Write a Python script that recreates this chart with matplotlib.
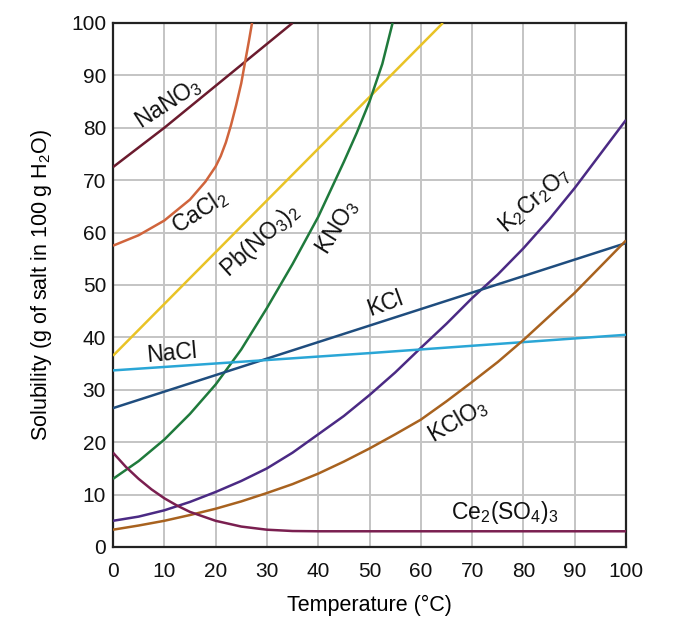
import matplotlib
matplotlib.use("Agg")
import matplotlib.pyplot as plt

plt.rcParams['font.family'] = ['Liberation Sans', 'DejaVu Sans']
plt.rcParams['mathtext.fontset'] = 'custom'
plt.rcParams['mathtext.rm'] = 'Liberation Sans'
plt.rcParams['mathtext.default'] = 'regular'

# Data (temperature in °C, solubility in g / 100 g water)
nano3_t = [0, 10, 20, 30, 35]
nano3_s = [72.5, 80, 88, 96, 100]

cacl2_t = [0, 5, 10, 15, 18, 20, 21, 22, 23, 24, 25, 25.7, 26.5, 27.1]
cacl2_s = [57.5, 59.5, 62.3, 66.3, 69.7, 72.6, 74.6, 77.2, 80.5, 84.3, 88.5, 92.3, 96.6, 100]

pb_t = [0, 64.3]
pb_s = [36.5, 100]

kno3_t = [0, 5, 10, 15, 20, 25, 30, 35, 40, 45, 47.5, 50, 52.5, 54.5]
kno3_s = [13, 16.4, 20.5, 25.4, 31, 37.7, 45.6, 54, 63, 73.5, 79, 85, 92.2, 100]

k2cr2o7_t = [0, 5, 10, 15, 20, 25, 30, 35, 40, 45, 50, 55, 60, 65, 70, 75, 80, 85, 90, 95, 100]
k2cr2o7_s = [5, 5.8, 7, 8.6, 10.5, 12.6, 15, 18, 21.5, 25, 29, 33.3, 38, 42.6,
             47.5, 52, 57, 62.5, 68.5, 75, 81.5]

kcl_t = [0, 100]
kcl_s = [26.5, 58]

nacl_t = [0, 50, 100]
nacl_s = [33.7, 37, 40.5]

kclo3_t = [0, 5, 10, 15, 20, 25, 30, 35, 40, 45, 50, 55, 60, 65, 70, 75, 80, 85, 90, 95, 100]
kclo3_s = [3.3, 4.1, 5, 6.1, 7.3, 8.7, 10.3, 12, 14, 16.3, 18.8, 21.5, 24.3, 27.8,
           31.5, 35.3, 39.5, 44, 48.5, 53.5, 58.5]

ce_t = [0, 2.5, 5, 7.5, 10, 12.5, 15, 20, 25, 30, 35, 40, 100]
ce_s = [18, 15.3, 13, 11, 9.3, 7.9, 6.7, 5, 3.9, 3.3, 3.05, 3, 3]

x_ticks = list(range(0, 101, 10))
y_ticks = list(range(0, 101, 10))

series = [
    (nano3_t, nano3_s, '#6b1b2e'),
    (cacl2_t, cacl2_s, '#d0643c'),
    (pb_t, pb_s, '#e9c326'),
    (kno3_t, kno3_s, '#1f7a3c'),
    (k2cr2o7_t, k2cr2o7_s, '#4b2a84'),
    (kcl_t, kcl_s, '#1f4d7e'),
    (nacl_t, nacl_s, '#2aa6d6'),
    (kclo3_t, kclo3_s, '#a8621f'),
    (ce_t, ce_s, '#7a1f50'),
]

labels = [
    (r'NaNO$_3$', 10.7, 84.7, 33),
    (r'CaCl$_2$', 16.8, 64.0, 33),
    (r'Pb(NO$_3$)$_2$', 28.7, 58.6, 42),
    (r'KNO$_3$', 43.7, 61.0, 58),
    (r'K$_2$Cr$_2$O$_7$', 82.3, 66.2, 41),
    ('KCl', 53.0, 46.5, 20),
    ('NaCl', 11.5, 37.0, 5),
    (r'KClO$_3$', 67.2, 24.2, 30),
    (r'Ce$_2$(SO$_4$)$_3$', 76.4, 6.5, 0),
]

fig = plt.figure(figsize=(6.98, 6.30), dpi=100)
ax = fig.add_axes([113/698, 1-547/630, (626-113)/698, (547-23)/630])

for t, s, c in series:
    ax.plot(t, s, color=c, lw=1.8, solid_capstyle='butt', solid_joinstyle='round', zorder=3)

for txt, x, y, rot in labels:
    ax.text(x, y, txt, fontsize=16.5, rotation=rot, ha='center', va='center',
            rotation_mode='anchor', color='#111111', zorder=4)

ax.set_xlim(0, 100)
ax.set_ylim(0, 100)
ax.set_xticks(x_ticks)
ax.set_yticks(y_ticks)
ax.tick_params(length=0, labelsize=15, pad=5, colors='#111111')
ax.tick_params(axis='x', pad=11)
ax.grid(True, color='#c4c4c4', lw=1.4, zorder=1)
for sp in ax.spines.values():
    sp.set_linewidth(1.6)
    sp.set_color('#222222')
ax.set_xlabel('Temperature (°C)', fontsize=15.5, labelpad=10)
ax.set_ylabel(r'Solubility (g of salt in 100 g H$_2$O)', fontsize=15.5, labelpad=12)

fig.savefig('out.png', dpi=100)
